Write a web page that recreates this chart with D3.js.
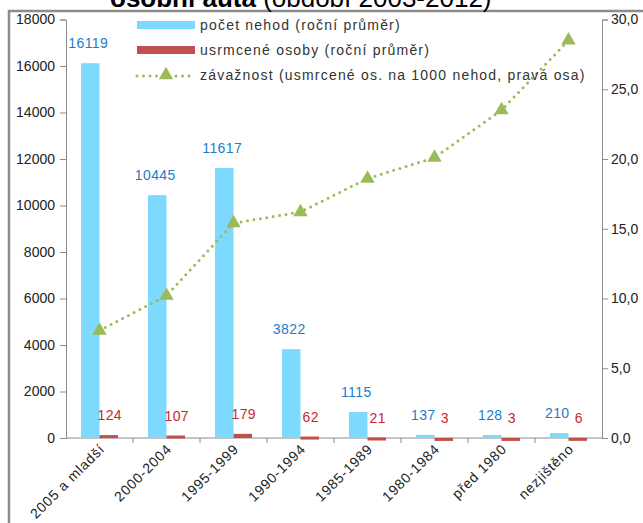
<!DOCTYPE html>
<html>
<head>
<meta charset="utf-8">
<script src="https://cdn.jsdelivr.net/npm/d3@7"></script>
<style>
  body { margin: 0; background: #fff; }
  svg { display: block; font-family: "Liberation Sans", Arial, sans-serif; }
</style>
</head>
<body>
<svg id="chart" width="643" height="523"></svg>
<script>
const categories = ["2005 a mladší", "2000-2004", "1995-1999", "1990-1994", "1985-1989", "1980-1984", "před 1980", "nezjištěno"];
const accidents = [16119, 10445, 11617, 3822, 1115, 137, 128, 210];
const killed = [124, 107, 179, 62, 21, 3, 3, 6];
const severity = [7.7, 10.2, 15.4, 16.2, 18.6, 20.1, 23.5, 28.5];
const leftTicks = [0, 2000, 4000, 6000, 8000, 10000, 12000, 14000, 16000, 18000];
const rightTicks = [0, 5, 10, 15, 20, 25, 30];
const legendLabels = ["počet nehod (roční průměr)", "usrmcené osoby (roční průměr)", "závažnost (usmrcené os. na 1000 nehod, pravá osa)"];

const blue = "#7dd9fd", red = "#c0504d", green = "#9bbb59";
const svg = d3.select("#chart");

// frame and cut-off title
svg.append("rect").attr("x", 9).attr("y", 11).attr("width", 700).attr("height", 600)
  .attr("fill", "none").attr("stroke", "#8c8c8c").attr("stroke-width", 2.5);
const title = svg.append("text").attr("x", 110).attr("y", 7).attr("font-size", 26).attr("fill", "#000");
title.append("tspan").attr("font-weight", "bold").text("osobní auta ");
title.append("tspan").text("(období 2003-2012)");

const x = d3.scaleBand().domain(categories).range([66, 602]);
const x1 = d3.scaleBand().domain(["n", "k"]).range([0, x.bandwidth()]).paddingOuter(0.81);
const y = d3.scaleLinear().domain([0, 18000]).range([438, 19.5]);
const y2 = d3.scaleLinear().domain([0, 30]).range([438, 19.5]);

// axes
const gl = svg.append("g").attr("transform", "translate(66,0)")
  .call(d3.axisLeft(y).tickValues(leftTicks).tickFormat(d3.format("d")).tickSize(6).tickPadding(5));
const gr = svg.append("g").attr("transform", "translate(602,0)")
  .call(d3.axisRight(y2).tickValues(rightTicks).tickFormat(d => d3.format(".1f")(d).replace(".", ",")).tickSize(6).tickPadding(3));
[gl, gr].forEach(g => {
  g.select(".domain").attr("stroke", "#8c8c8c");
  g.selectAll(".tick line").attr("stroke", "#8c8c8c");
  g.selectAll(".tick text").attr("font-size", 14).attr("fill", "#222");
});

const gx = svg.append("g").attr("transform", "translate(0,438)");
gx.append("line").attr("x1", 66).attr("x2", 602).attr("stroke", "#8c8c8c");
gx.selectAll(".tk").data(categories.slice(1)).join("line").attr("class", "tk")
  .attr("x1", d => x(d)).attr("x2", d => x(d)).attr("y2", 5).attr("stroke", "#8c8c8c");
gx.selectAll(".cat").data(categories).join("text").attr("class", "cat")
  .attr("transform", d => `translate(${x(d) + x.bandwidth() / 2 + 6},12) rotate(-45)`)
  .attr("text-anchor", "end").attr("font-size", 14).attr("letter-spacing", 0.8)
  .attr("fill", "#222").text(d => d);

// bars
const bars = svg.append("g");
bars.selectAll(".n").data(categories).join("rect").attr("class", "n")
  .attr("x", d => x(d) + x1("n")).attr("width", x1.bandwidth())
  .attr("y", (d, i) => y(accidents[i])).attr("height", (d, i) => y(0) - y(accidents[i]))
  .attr("fill", blue);
bars.selectAll(".k").data(categories).join("rect").attr("class", "k")
  .attr("x", d => x(d) + x1("k")).attr("width", x1.bandwidth())
  .attr("y", (d, i) => y(killed[i])).attr("height", (d, i) => Math.max(3, y(0) - y(killed[i])))
  .attr("fill", red);

// data labels
const labels = svg.append("g").attr("font-size", 14).attr("letter-spacing", 0.4).attr("text-anchor", "middle");
labels.selectAll(".ln").data(categories).join("text").attr("class", "ln")
  .attr("x", d => x(d) + x1("n") + x1.bandwidth() / 2 - 2)
  .attr("y", (d, i) => y(accidents[i]) - 15)
  .attr("fill", "#1f7bcb").text((d, i) => accidents[i]);
labels.selectAll(".lk").data(categories).join("text").attr("class", "lk")
  .attr("x", d => x(d) + x1("k") + x1.bandwidth() / 2 + 1)
  .attr("y", (d, i) => y(killed[i]) - 15)
  .attr("fill", "#c8282d").text((d, i) => killed[i]);

// severity line
const cx = d => x(d) + x.bandwidth() / 2;
svg.append("path").datum(categories)
  .attr("d", d3.line().x(cx).y((d, i) => y2(severity[i])))
  .attr("fill", "none").attr("stroke", green).attr("stroke-width", 3)
  .attr("stroke-dasharray", "0 6.5").attr("stroke-linecap", "round");
const tri = d3.symbol().type(d3.symbolTriangle).size(90);
svg.selectAll(".tri").data(categories).join("path").attr("class", "tri")
  .attr("transform", (d, i) => `translate(${cx(d)},${y2(severity[i])})`)
  .attr("d", tri).attr("fill", green);

// legend
const lg = svg.append("g").attr("font-size", 14).attr("fill", "#333");
lg.append("rect").attr("x", 137).attr("y", 21).attr("width", 58).attr("height", 8).attr("fill", blue);
lg.append("rect").attr("x", 137).attr("y", 46).attr("width", 58).attr("height", 8).attr("fill", red);
lg.append("line").attr("x1", 137).attr("x2", 195).attr("y1", 76).attr("y2", 76)
  .attr("stroke", green).attr("stroke-width", 3).attr("stroke-dasharray", "0 6.5").attr("stroke-linecap", "round");
lg.append("path").attr("transform", "translate(166,75)").attr("d", tri).attr("fill", green);
lg.selectAll("text").data(legendLabels).join("text")
  .attr("x", 200).attr("y", (d, i) => 30 + i * 25).attr("letter-spacing", 1.2).text(d => d);
</script>
</body>
</html>
